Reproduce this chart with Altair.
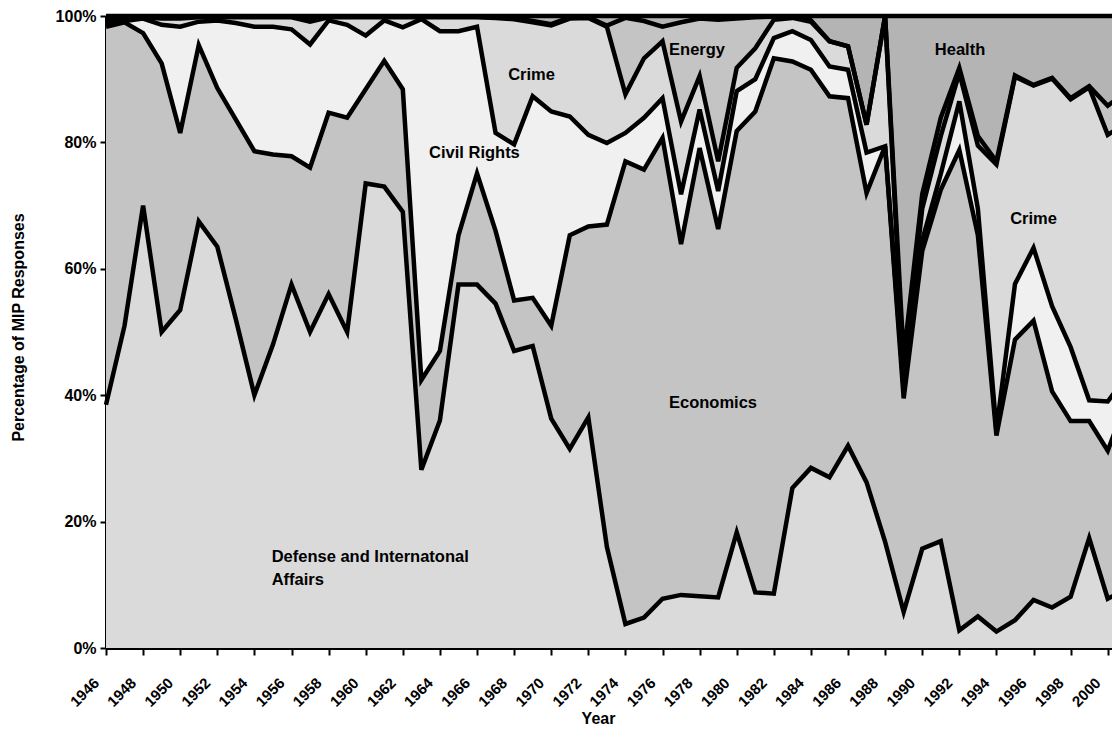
import altair as alt
import pandas as pd

years = list(range(1946, 2002))

# Percent of "most important problem" responses per category
defense = [38.5, 51.0, 70.0, 50.0, 53.5, 67.5, 63.5, 52.0, 40.0, 48.0,
           57.5, 50.0, 56.0, 50.0, 73.5, 73.0, 69.0, 28.2, 36.0, 57.5,
           57.5, 54.5, 47.0, 47.8, 36.3, 31.5, 36.5, 16.0, 3.8, 4.8,
           7.8, 8.4, 8.2, 8.0, 18.3, 8.8, 8.6, 25.3, 28.5, 27.0,
           32.0, 26.2, 16.8, 5.7, 15.7, 16.9, 2.8, 5.0, 2.6, 4.4,
           7.6, 6.4, 8.1, 17.4, 7.8, 9.3]
economics = [59.8, 48.0, 27.3, 42.5, 28.0, 27.9, 25.1, 31.6, 38.6, 30.1,
             20.3, 26.0, 28.7, 33.9, 14.9, 19.9, 19.4, 14.2, 11.0, 7.8,
             17.6, 11.5, 8.0, 7.6, 14.7, 33.8, 30.2, 51.0, 73.2, 70.9,
             72.9, 55.5, 70.9, 58.3, 63.5, 76.1, 84.7, 67.5, 63.0, 60.3,
             55.0, 45.8, 62.6, 33.8, 47.1, 55.6, 76.0, 60.3, 31.0, 44.4,
             44.2, 34.2, 27.8, 18.5, 23.4, 29.7]
civil_rights = [0.6, 0.2, 2.3, 6.1, 16.8, 3.7, 10.7, 15.3, 19.7, 20.2,
                20.1, 19.5, 14.6, 14.7, 8.5, 6.4, 9.8, 57.1, 50.6, 32.3,
                23.2, 15.5, 24.7, 31.9, 33.9, 18.8, 14.5, 12.9, 4.5, 8.2,
                6.3, 7.9, 6.1, 6.0, 6.3, 5.1, 3.2, 4.8, 4.7, 4.7,
                4.5, 6.4, 0.0, 1.5, 1.7, 2.5, 7.7, 4.2, 0.9, 8.8,
                11.5, 13.5, 11.7, 3.3, 7.8, 4.0]
crime = [0.2, 0.2, 0.2, 1.0, 1.3, 0.7, 0.5, 0.9, 1.5, 1.5,
         1.9, 3.6, 0.5, 1.2, 2.9, 0.5, 1.6, 0.3, 2.2, 2.2,
         1.5, 18.2, 19.8, 11.7, 13.6, 15.5, 18.5, 18.4, 6.1, 9.4,
         9.0, 11.5, 5.3, 4.7, 3.7, 4.9, 2.9, 2.1, 2.9, 4.0,
         3.7, 4.4, 20.6, 2.0, 5.0, 6.0, 4.5, 10.0, 42.0, 32.8,
         25.7, 36.0, 39.2, 49.5, 42.2, 40.0]
energy = [0.3, 0.2, 0.1, 0.2, 0.2, 0.1, 0.1, 0.1, 0.1, 0.1,
          0.1, 0.3, 0.1, 0.1, 0.1, 0.1, 0.1, 0.1, 0.1, 0.1,
          0.1, 0.1, 0.2, 0.2, 0.2, 0.2, 0.1, 0.2, 12.1, 5.9,
          2.3, 15.7, 9.1, 22.4, 7.8, 4.9, 0.5, 0.2, 0.2, 0.0,
          0.0, 0.0, 0.0, 3.0, 2.3, 2.9, 0.8, 1.5, 0.5, 0.2,
          0.1, 0.1, 0.2, 0.2, 4.6, 5.0]
health = [0.6, 0.4, 0.1, 0.2, 0.2, 0.1, 0.1, 0.1, 0.1, 0.1,
          0.1, 0.6, 0.1, 0.1, 0.1, 0.1, 0.1, 0.1, 0.1, 0.1,
          0.1, 0.2, 0.3, 0.8, 1.3, 0.2, 0.2, 1.5, 0.3, 0.8,
          1.7, 1.0, 0.4, 0.6, 0.4, 0.2, 0.1, 0.1, 0.7, 4.0,
          4.8, 17.2, 0.0, 54.0, 28.2, 16.1, 8.2, 19.0, 23.0, 9.4,
          10.9, 9.8, 13.0, 11.1, 14.2, 12.0]

categories = ["Defense and International Affairs", "Economics", "Civil Rights",
              "Crime", "Energy", "Health"]
series = [defense, economics, civil_rights, crime, energy, health]
fills = ["#dadada", "#c4c4c4", "#f0f0f0", "#dadada", "#c4c4c4", "#b4b4b4"]

# tick labels on the year axis
year_ticks = list(range(1946, 2001, 2))

# in-chart labels
center_labels = ["Crime", "Civil Rights", "Energy", "Health", "Crime", "Economics"]
center_label_year = [1968.94, 1965.86, 1977.86, 1992.04, 1996.0, 1978.72]
center_label_pct = [90.6, 78.3, 94.55, 94.55, 67.9, 38.83]
left_labels = ["Defense and Internatonal", "Affairs"]
left_label_year = [1954.93, 1954.93]
left_label_pct = [14.36, 10.73]

rows = []
for i, (cat, vals) in enumerate(zip(categories, series)):
    for yr, v in zip(years, vals):
        rows.append({"year": yr, "category": cat, "order": i, "value": v})
df = pd.DataFrame(rows)

FONT = "Liberation Sans"

x_scale = alt.Scale(domain=[1946, 2000.23], nice=False, zero=False)
y_scale = alt.Scale(domain=[0, 100], nice=False)

x_axis = alt.Axis(
    values=year_ticks, tickCount=40, format="d", grid=False,
    labelAngle=-45, labelAlign="right", labelBaseline="middle",
    labelFont=FONT, labelFontWeight="bold", labelFontSize=15, labelColor="black",
    labelPadding=25, labelOffset=-10, labelOverlap=False,
    tickColor="black", tickWidth=2, tickSize=7,
    domainColor="black", domainWidth=3,
    title="Year", titleFont=FONT, titleFontWeight="bold", titleFontSize=16,
    titleColor="black", titleX=492, titleY=70, titleAlign="center",
    titleBaseline="middle", titleAnchor="start",
)
y_axis = alt.Axis(
    values=[0, 20, 40, 60, 80, 100], labelExpr="datum.value + '%'", grid=False,
    labelFont=FONT, labelFontWeight="bold", labelFontSize=16, labelColor="black",
    labelPadding=4, tickColor="black", tickWidth=2, tickSize=6,
    domainColor="black", domainWidth=3,
    title="Percentage of MIP Responses", titleFont=FONT, titleFontWeight="bold",
    titleFontSize=16, titleColor="black", titleX=-88, titleY=311,
    titleAngle=270, titleAlign="center", titleBaseline="middle", titleAnchor="start",
)

base = alt.Chart(df).transform_stack(
    stack="value", groupby=["year"], as_=["y0", "y1"],
    sort=[alt.SortField("order", order="ascending")],
)

areas = base.mark_area(strokeWidth=0).encode(
    x=alt.X("year:Q", scale=x_scale, axis=x_axis),
    y=alt.Y("y1:Q", scale=y_scale, axis=y_axis),
    y2="y0:Q",
    color=alt.Color("category:N", scale=alt.Scale(domain=categories, range=fills), legend=None),
)

lines = base.mark_line(color="black", strokeWidth=4.5).encode(
    x="year:Q",
    y="y1:Q",
    detail="category:N",
)

clab = alt.Chart(pd.DataFrame({"t": center_labels, "year": center_label_year, "pct": center_label_pct})).mark_text(
    font=FONT, fontWeight="bold", fontSize=16.5, color="black", align="center", baseline="middle"
).encode(x="year:Q", y="pct:Q", text="t:N")

llab = alt.Chart(pd.DataFrame({"t": left_labels, "year": left_label_year, "pct": left_label_pct})).mark_text(
    font=FONT, fontWeight="bold", fontSize=16.5, color="black", align="left", baseline="middle"
).encode(x="year:Q", y="pct:Q", text="t:N")

chart = alt.layer(areas, lines, clab, llab).properties(
    width=1006, height=632,
    autosize=alt.AutoSizeParams(type="none"),
    padding={"left": 98, "top": 8, "right": 0, "bottom": 80},
    background="white",
).configure_view(stroke=None).configure_axisX(labelOverlap=False)

chart.save("out.html", embed_options={"renderer": "svg", "actions": False})
